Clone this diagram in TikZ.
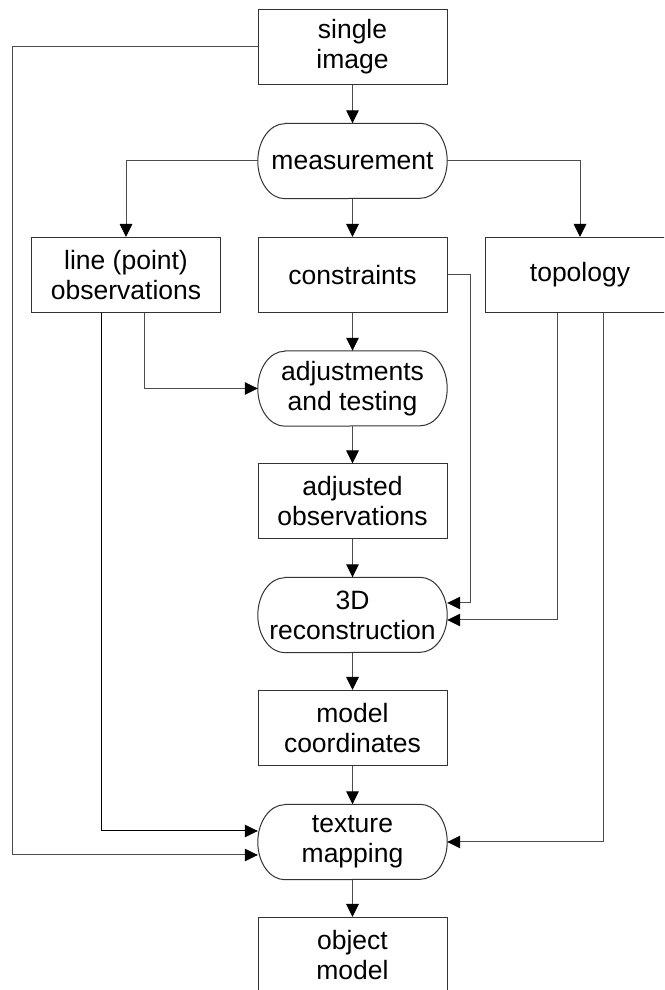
\documentclass[tikz,border=0pt]{standalone}
\usepackage{fontspec}
\setmainfont{Liberation Sans}
\usetikzlibrary{arrows.meta}

% outline of a terminator node: straight top and bottom, elliptic ends
\newcommand\stadiumoutline[1]{%
  \draw[boxline] ([xshift=27pt]#1.north west) -- ([xshift=-27pt]#1.north east)
    arc[start angle=90, end angle=-90, x radius=27pt, y radius=37.5pt]
    -- ([xshift=27pt]#1.south west)
    arc[start angle=270, end angle=90, x radius=27pt, y radius=37.5pt]
    -- cycle;}

\tikzset{
  boxline/.style={line width=1pt, draw=black!80},
  basenode/.style={minimum width=189pt, minimum height=75pt, inner sep=0pt,
    align=center, font=\fontsize{26.5}{30}\selectfont},
  procbox/.style={basenode, boxline, draw, rectangle},
  termnode/.style={basenode, draw=none},
  arr/.style={line width=1pt, draw=black!70,
    -{Triangle[length=13pt, width=12.5pt, black]}},
}

\begin{document}
\begin{tikzpicture}[x=1pt, y=1pt]
\useasboundingbox (0,0) rectangle (664,990);
\clip (0,0) rectangle (664,990);
\fill[white] (0,0) rectangle (664,990);

% process column
\node[procbox] (single) at (352.5,943) {single\\image};
\node[termnode] (meas) at (352.5,829) {measurement};
\stadiumoutline{meas}
\node[procbox] (lineobs) at (126,715) {line (point)\\observations};
\node[procbox] (constr) at (352.5,715) {constraints};
\node[procbox] (topo) at (580,715) {topology};
\node[termnode] (adjust) at (352.5,601.5) {adjustments\\and testing};
\stadiumoutline{adjust}
\node[procbox] (adjobs) at (352.5,488.5) {adjusted\\observations};
\node[termnode] (recon) at (352.5,375) {3D\\reconstruction};
\stadiumoutline{recon}
\node[procbox] (modelc) at (352.5,262) {model\\coordinates};
\node[termnode] (texture) at (352.5,148) {texture\\mapping};
\stadiumoutline{texture}
\node[procbox] (object) at (352.5,35) {object\\model};

% main flow
\draw[arr] (single.south) -- (meas.north);
\draw[arr] (meas.west) -| (lineobs.north);
\draw[arr] (meas.south) -- (constr.north);
\draw[arr] (meas.east) -| (topo.north);
\draw[arr] (constr.south) -- (adjust.north);
\draw[arr] (adjust.south) -- (adjobs.north);
\draw[arr] (adjobs.south) -- (recon.north);
\draw[arr] (recon.south) -- (modelc.north);
\draw[arr] (modelc.south) -- (texture.north);
\draw[arr] (texture.south) -- (object.north);

% side inputs
\draw[arr] ([xshift=18pt]lineobs.south) |- (adjust.west);
\draw[arr] (constr.east) -- ++(23pt,0) |- ([yshift=12pt]recon.east);
\draw[arr] ([xshift=-23pt]topo.south) |- ([yshift=-5pt]recon.east);
\draw[arr] ([xshift=23pt]topo.south) |- (texture.east);
\draw[arr, draw=black] ([xshift=-25pt]lineobs.south) |- ([yshift=11pt]texture.west);
\draw[arr] (single.west) -- ++(-245pt,0) |- ([yshift=-13pt]texture.west);
\end{tikzpicture}
\end{document}
